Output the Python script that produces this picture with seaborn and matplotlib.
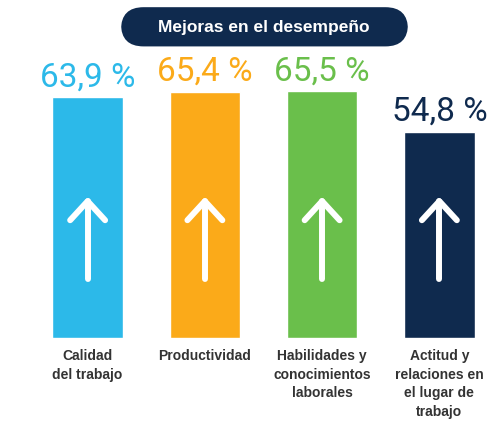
import matplotlib
matplotlib.use("Agg")
import matplotlib.pyplot as plt
import matplotlib.transforms as mtransforms
from matplotlib.patches import FancyBboxPatch
import seaborn as sns
import pandas as pd

title = "Mejoras en el desempeño"
categories = ["Calidad\ndel trabajo", "Productividad", "Habilidades y\nconocimientos\nlaborales",
              "Actitud y\nrelaciones en\nel lugar de\ntrabajo"]
values = [63.9, 65.4, 65.5, 54.8]
value_labels = ["63,9 %", "65,4 %", "65,5 %", "54,8 %"]
colors = ["#2cb9e9", "#fbaa19", "#6abf4b", "#0f2a4e"]

sns.set_theme(style="white")
plt.rcParams['font.family'] = ['Liberation Sans', 'DejaVu Sans']

fig = plt.figure(figsize=(5, 4.31), dpi=100)
ax = fig.add_axes([0.058, 0.2135, 0.938, 0.69])

df = pd.DataFrame({"cat": categories, "val": values})
sns.barplot(data=df, x="cat", y="val", hue="cat", palette=colors, width=0.6,
            legend=False, ax=ax, saturation=1)
ax.set_xlim(-0.5, 3.5)
ax.set_ylim(0, 79)
ax.axis("off")

trans = mtransforms.blended_transform_factory(ax.transData, ax.transAxes)
for i, (v, lab, c, cat) in enumerate(zip(values, value_labels, colors, categories)):
    ax.annotate(lab, (i, v), xytext=(0, 3.5), textcoords="offset points",
                ha="center", va="bottom", fontsize=24, color=c,
                family=["Roboto", "DejaVu Sans"], fontweight="normal")
    # arrow
    tip, bot, drop, hw = 0.46, 0.20, 0.064, 0.149
    kw = dict(color="white", lw=4.3, solid_capstyle="round", solid_joinstyle="round",
              transform=trans)
    ax.plot([i, i], [bot, tip], **kw)
    ax.plot([i - hw, i, i + hw], [tip - drop, tip, tip - drop], **kw)
    ax.text(i, -0.035, cat, transform=trans, ha="center", va="top", fontsize=10,
            color="#333333", fontweight="bold", linespacing=1.4)

pill = FancyBboxPatch((0.242, 0.89), 0.574, 0.091, boxstyle="round,pad=0,rounding_size=0.045",
                      transform=fig.transFigure, facecolor="#0f2a4e", edgecolor="none",
                      mutation_aspect=500/431)
fig.patches.append(pill)
fig.text(0.528, 0.936, title, ha="center", va="center", fontsize=12.5,
         color="white", fontweight="bold")

fig.savefig("out.png", dpi=100, facecolor="white")
